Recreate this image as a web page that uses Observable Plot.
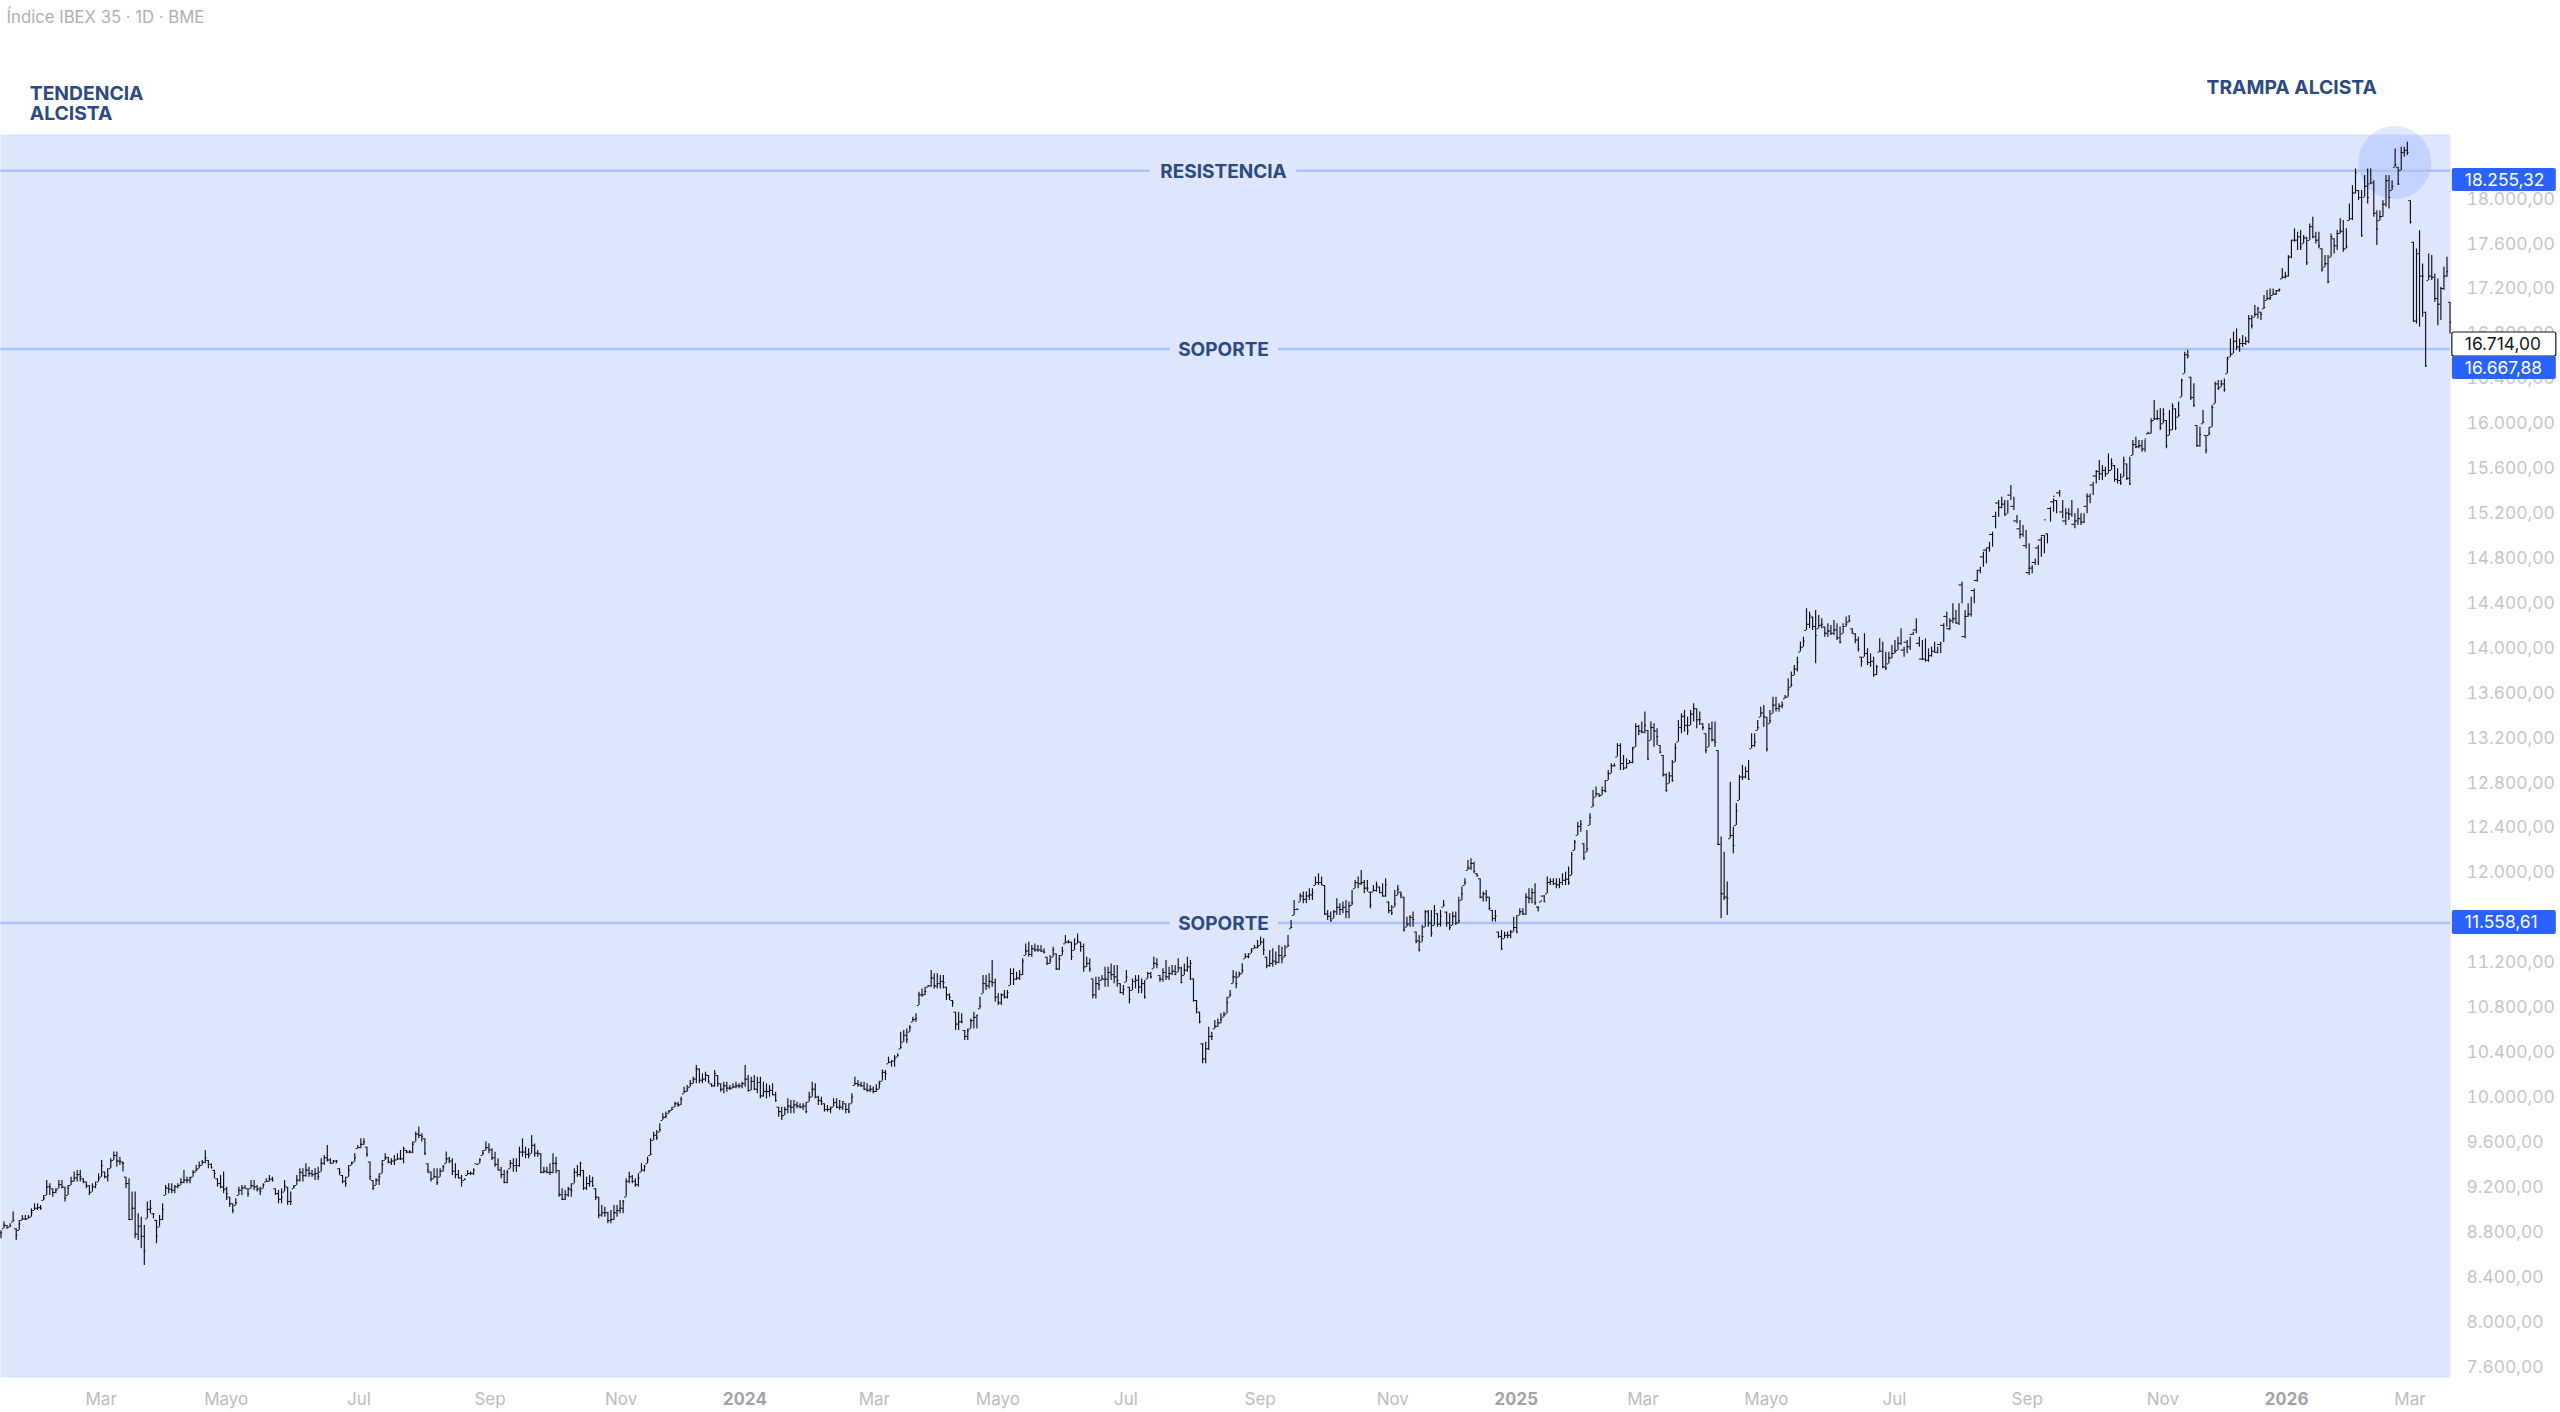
<!DOCTYPE html>
<html lang="es">
<head>
<meta charset="utf-8">
<title>Índice IBEX 35</title>
<style>
html,body{margin:0;padding:0;background:#fff}
svg{display:block}
</style>
<script src="https://cdn.jsdelivr.net/npm/d3@7"></script>
<script src="https://cdn.jsdelivr.net/npm/@observablehq/plot@0.6"></script>
</head>
<body>
<div id="chart"></div>
<script>
// Daily bars (rows of ten bars)
const highs = [
8800,8877,8847,8862,8966,8817,8892,8936,8936,8936,
8995,9040,9040,9025,9114,9248,9218,9173,9173,9248,
9248,9188,9203,9277,9322,9337,9337,9262,9233,9203,
9218,9233,9307,9426,9322,9352,9440,9500,9500,9455,
9411,9277,9262,9144,9144,8951,8921,8847,9055,9070,
8951,8892,8936,9040,9203,9218,9218,9203,9218,9262,
9337,9277,9277,9337,9381,9411,9426,9515,9426,9396,
9337,9262,9292,9322,9188,9099,9040,9084,9188,9203,
9203,9173,9248,9248,9203,9188,9218,9262,9292,9277,
9173,9159,9173,9248,9188,9144,9203,9292,9352,9352,
9396,9366,9337,9352,9366,9440,9470,9559,9440,9426,
9426,9352,9292,9277,9381,9411,9485,9559,9619,9619,
9544,9411,9248,9262,9307,9426,9485,9455,9440,9470,
9485,9515,9544,9515,9515,9589,9678,9723,9663,9619,
9396,9322,9352,9352,9352,9381,9500,9455,9440,9396,
9337,9292,9262,9337,9322,9352,9396,9440,9515,9589,
9574,9529,9499,9440,9366,9336,9336,9425,9440,9440,
9544,9618,9544,9529,9648,9573,9514,9485,9366,9366,
9396,9485,9455,9336,9173,9158,9188,9218,9351,9381,
9410,9336,9277,9292,9277,9173,9099,9025,9010,8965,
8980,9025,9025,9069,9069,9262,9321,9292,9262,9307,
9396,9381,9455,9618,9677,9692,9752,9841,9856,9870,
9900,9945,9945,9989,10078,10093,10138,10167,10271,10241,
10197,10212,10182,10108,10227,10182,10108,10123,10123,10093,
10108,10123,10108,10123,10271,10182,10167,10182,10167,10167,
10123,10108,10093,10108,10034,9900,9900,9900,9974,9960,
9960,9945,9930,9930,9945,10034,10123,10108,9997,9989,
9930,9915,9900,9974,9974,9960,9945,9930,9930,10019,
10167,10138,10123,10123,10108,10093,10080,10100,10130,10230,
10226,10345,10315,10360,10375,10568,10582,10597,10627,10701,
10731,10924,10953,10968,10983,11117,11087,11087,11072,11072,
10968,10909,10850,10746,10746,10731,10582,10597,10686,10746,
10716,10879,11072,11072,11087,11206,11042,10909,10909,10939,
10939,11132,11132,11102,11117,11221,11354,11369,11339,11354,
11339,11339,11310,11235,11250,11324,11265,11250,11324,11428,
11384,11369,11399,11443,11369,11354,11235,11221,11042,11057,
11057,11072,11146,11146,11176,11161,11161,11000,10983,11117,
10968,11042,11072,11072,11042,11027,11102,11102,11235,11221,
11072,11132,11206,11146,11161,11161,11221,11146,11176,11235,
11206,11042,10850,10746,10464,10479,10612,10568,10672,10686,
10731,10746,10879,10939,11117,11103,11103,11177,11266,11266,
11310,11340,11385,11414,11400,11236,11296,11310,11281,11340,
11325,11340,11429,11563,11741,11667,11800,11815,11815,11845,
11845,11949,11978,11949,11874,11652,11637,11652,11756,11711,
11726,11741,11726,11830,11919,11949,12008,11919,11919,11815,
11874,11904,11860,11889,11934,11726,11696,11830,11874,11815,
11770,11592,11607,11637,11459,11429,11518,11652,11652,11652,
11696,11622,11652,11741,11637,11622,11637,11637,11770,11860,
11934,12097,12112,12082,11978,11934,11815,11830,11770,11652,
11652,11459,11474,11459,11459,11474,11592,11607,11667,11667,
11800,11845,11845,11889,11682,11741,11785,11949,11934,11934,
11934,11934,11978,11993,12038,12171,12275,12438,12453,12245,
12364,12512,12720,12750,12690,12750,12809,12898,12958,12958,
13136,13136,13032,13002,12987,13106,13314,13299,13329,13418,
13254,13329,13314,13269,13121,13032,12869,12883,12987,13136,
13343,13403,13433,13373,13433,13492,13447,13418,13314,13225,
13314,13329,13329,13076,12305,12171,11904,12794,12394,12601,
12854,12943,12928,12987,13225,13225,13343,13462,13477,13373,
13433,13551,13551,13492,13507,13566,13714,13774,13833,13907,
14041,14085,14338,14308,14264,14323,14278,14249,14175,14204,
14189,14234,14204,14175,14204,14264,14278,14160,14115,14085,
13907,14115,13982,13937,13907,13833,14071,14040,13951,13951,
14011,14055,14085,14159,13996,14055,14085,14129,14248,14085,
14055,14070,13981,13996,14040,13996,14040,14204,14308,14248,
14382,14322,14382,14575,14322,14382,14441,14515,14678,14708,
14842,14871,14931,15020,15198,15302,15331,15302,15302,15435,
15331,15168,15124,15079,15035,14916,14723,14782,14901,14975,
14990,15005,15242,15317,15302,15391,15302,15228,15228,15302,
15183,15228,15183,15183,15361,15361,15465,15569,15658,15613,
15599,15717,15673,15613,15584,15539,15688,15628,15688,15836,
15866,15836,15836,15836,15910,16029,16192,16103,16118,16118,
16014,16103,16163,16118,16177,16385,16622,16637,16400,16341,
15970,15955,16103,15881,15955,16148,16355,16370,16370,16385,
16578,16741,16801,16830,16741,16771,16756,16949,16949,17038,
17023,16979,17127,17172,17186,17186,17172,17186,17365,17335,
17483,17617,17721,17691,17706,17661,17647,17765,17825,17691,
17691,17543,17483,17483,17676,17632,17706,17810,17795,17721,
17943,18106,18254,18062,18062,18195,18254,18254,18150,17883,
17883,17972,18195,18195,18150,18433,18269,18447,18447,18492,
17972,17601,17542,17705,17409,16978,17498,17483,17319,17275,
17201,17379,17468,17067
];
const lows = [
8728,8817,8817,8832,8877,8713,8802,8892,8892,8906,
8921,8980,8980,8980,9070,9114,9114,9099,9129,9173,
9173,9055,9114,9203,9233,9233,9233,9218,9173,9114,
9144,9173,9233,9277,9262,9233,9352,9426,9366,9381,
9322,9173,8892,8892,8728,8713,8639,8491,8906,8951,
8906,8684,8832,8892,9114,9129,9129,9129,9173,9203,
9218,9218,9218,9277,9322,9352,9381,9396,9352,9352,
9262,9188,9173,9129,9070,9010,8951,9025,9114,9114,
9173,9099,9173,9159,9144,9114,9173,9233,9233,9233,
9114,9040,9040,9144,9025,9025,9173,9203,9233,9233,
9277,9277,9277,9248,9248,9322,9381,9411,9396,9396,
9396,9292,9218,9188,9277,9381,9411,9530,9530,9559,
9455,9248,9159,9203,9203,9307,9426,9396,9381,9381,
9426,9426,9396,9485,9485,9485,9589,9619,9589,9470,
9307,9233,9262,9203,9277,9322,9396,9396,9292,9262,
9262,9188,9248,9292,9292,9292,9396,9396,9470,9515,
9485,9425,9366,9336,9262,9218,9218,9351,9321,9321,
9366,9455,9440,9440,9485,9455,9455,9307,9307,9307,
9292,9307,9307,9099,9069,9069,9099,9099,9218,9277,
9277,9158,9158,9188,9188,9069,8906,8921,8921,8861,
8861,8891,8921,8950,8950,9099,9218,9218,9188,9188,
9321,9321,9396,9470,9603,9603,9677,9781,9796,9841,
9870,9900,9900,9915,10019,10034,10078,10108,10108,10108,
10108,10123,10108,10078,10078,10078,10034,10019,10034,10049,
10063,10063,10063,10063,10078,10034,10049,10049,10019,9974,
9989,9974,9989,10004,9945,9811,9781,9826,9841,9841,
9841,9885,9885,9870,9841,9945,9989,9974,9915,9915,
9856,9856,9841,9900,9885,9870,9870,9841,9841,9930,
10093,10078,10078,10049,10034,10030,10020,10030,10060,10130,
10137,10286,10256,10256,10345,10419,10479,10464,10568,10657,
10657,10805,10879,10894,10968,10968,10953,10953,10953,10953,
10850,10850,10790,10582,10582,10642,10493,10493,10597,10597,
10597,10775,10909,10939,10953,10968,10835,10805,10805,10864,
10864,10983,10983,11028,11028,11072,11250,11235,11235,11280,
11280,11280,11265,11161,11176,11235,11117,11117,11250,11354,
11354,11206,11295,11354,11280,11102,11146,11102,10864,10864,
10939,11028,10968,10968,11028,10998,10968,10909,10894,11013,
10820,10939,10953,10909,10909,10864,11042,11042,11132,11132,
11013,11013,11028,11028,11072,11072,11102,10998,11072,11102,
11028,10835,10731,10642,10286,10286,10404,10493,10597,10612,
10642,10701,10731,10879,11000,10954,11058,11088,11221,11221,
11266,11310,11310,11340,11251,11132,11147,11147,11162,11177,
11177,11236,11325,11488,11607,11652,11726,11711,11711,11741,
11741,11874,11874,11874,11607,11563,11548,11578,11607,11607,
11622,11578,11578,11696,11845,11845,11874,11800,11815,11667,
11815,11815,11800,11770,11770,11622,11607,11681,11785,11756,
11459,11503,11503,11503,11355,11281,11370,11503,11503,11414,
11518,11503,11503,11681,11503,11474,11518,11518,11533,11741,
11874,12008,12008,11978,11949,11756,11726,11726,11652,11548,
11548,11400,11296,11400,11400,11400,11459,11444,11607,11607,
11607,11711,11711,11696,11637,11726,11726,11800,11874,11874,
11845,11845,11874,11874,11874,11963,12186,12320,12349,12097,
12171,12409,12572,12661,12661,12676,12700,12809,12869,12928,
13017,12898,12898,12913,12958,12958,13106,13210,13225,13225,
12987,13165,13106,13121,13047,12839,12705,12780,12794,12972,
13151,13225,13240,13210,13299,13329,13269,13299,13254,13047,
13106,13151,13106,12230,11577,11741,11607,12290,12156,12409,
12631,12809,12824,12809,13091,13106,13254,13373,13284,13062,
13314,13403,13418,13418,13447,13536,13551,13640,13744,13774,
13952,13996,14145,14160,14145,13848,14160,14160,14085,14085,
14100,14100,14056,14026,14115,14175,14219,14115,14026,13952,
13818,13907,13833,13818,13729,13744,13952,13803,13788,13847,
13892,13937,13966,14011,13907,13937,13966,14100,14115,13996,
13877,13862,13862,13907,13951,13937,13937,14040,14174,14144,
14204,14204,14189,14382,14070,14263,14263,14382,14575,14650,
14708,14738,14842,14886,15050,15153,15228,15168,15183,15302,
15213,15094,14960,14975,14871,14634,14649,14723,14723,14797,
14827,14916,15109,15198,15183,15331,15139,15079,15124,15153,
15050,15079,15079,15094,15183,15272,15346,15450,15480,15480,
15510,15539,15569,15465,15450,15435,15510,15480,15435,15703,
15762,15762,15732,15732,15895,15895,16014,16014,15925,15985,
15762,15881,15925,15925,16044,16222,16430,16563,16192,16133,
15777,15777,15985,15717,15881,15955,16163,16281,16311,16266,
16430,16578,16608,16637,16622,16667,16682,16697,16830,16934,
16919,16904,17008,17083,17083,17127,17127,17157,17275,17275,
17290,17454,17602,17528,17528,17587,17394,17617,17632,17587,
17543,17335,17379,17231,17468,17498,17528,17676,17513,17543,
17794,17794,18032,17972,17646,18002,17943,18121,17824,17572,
17794,17824,17913,17898,18062,18269,18106,18240,18358,18373,
17765,16889,16874,16845,16934,16488,17260,17260,17067,16859,
16904,17171,17290,16785
];
const closes = [
8780,8850,8825,8840,8890,8760,8860,8905,8900,8915,
8960,9000,9005,9000,9090,9190,9190,9140,9160,9210,
9190,9090,9180,9240,9270,9300,9280,9240,9200,9140,
9190,9210,9260,9380,9280,9290,9420,9470,9420,9420,
9400,9220,8900,9000,8770,8840,8750,8620,8990,9000,
8950,8750,8900,8990,9180,9170,9160,9190,9200,9230,
9250,9250,9270,9320,9340,9380,9410,9450,9390,9360,
9310,9220,9190,9170,9130,9040,8980,9050,9160,9180,
9180,9130,9200,9190,9170,9150,9210,9240,9260,9250,
9130,9080,9100,9200,9060,9060,9190,9250,9320,9290,
9340,9310,9300,9310,9280,9400,9450,9430,9400,9420,
9420,9320,9240,9220,9340,9400,9450,9540,9570,9590,
9480,9280,9180,9250,9280,9390,9450,9410,9420,9430,
9440,9440,9530,9500,9500,9570,9660,9650,9640,9490,
9340,9260,9280,9230,9330,9370,9440,9420,9330,9300,
9270,9230,9255,9310,9310,9340,9390,9430,9490,9540,
9520,9450,9390,9340,9300,9230,9320,9400,9380,9380,
9500,9500,9480,9470,9560,9490,9490,9320,9330,9320,
9320,9400,9400,9120,9080,9120,9170,9160,9320,9300,
9400,9180,9220,9240,9200,9100,8940,8960,8960,8890,
8900,8960,8980,9000,9060,9240,9280,9240,9210,9270,
9340,9370,9430,9480,9650,9630,9700,9810,9820,9860,
9880,9930,9920,9970,10040,10060,10110,10150,10240,10140,
10150,10190,10130,10090,10200,10110,10060,10090,10070,10070,
10080,10090,10090,10110,10150,10050,10130,10060,10120,10000,
10040,10040,10050,10010,9960,9860,9820,9880,9910,9900,
9920,9910,9900,9910,9860,9990,10060,9990,9960,9950,
9880,9880,9890,9940,9900,9900,9950,9880,9860,9990,
10110,10100,10090,10060,10050,10060,10040,10060,10110,10210,
10200,10300,10310,10330,10360,10430,10540,10500,10610,10680,
10690,10900,10900,10930,10980,11050,10980,11000,11020,11010,
10900,10880,10830,10640,10660,10660,10530,10580,10670,10700,
10720,10800,11000,10980,11020,11010,10880,10830,10900,10880,
10920,11090,11040,11050,11080,11200,11290,11260,11310,11300,
11300,11290,11280,11180,11210,11300,11130,11220,11290,11370,
11370,11240,11350,11380,11330,11150,11180,11130,10900,11000,
10990,11040,11040,11100,11080,11060,11030,10920,10950,11060,
10860,11020,11030,10970,11000,10880,11090,11060,11180,11170,
11040,11100,11060,11090,11110,11080,11140,11010,11120,11150,
11180,10850,10780,10660,10330,10420,10530,10530,10620,10650,
10680,10720,10830,10900,11060,11000,11080,11120,11240,11240,
11290,11320,11330,11370,11300,11160,11180,11200,11190,11250,
11220,11250,11340,11500,11660,11660,11780,11750,11780,11790,
11810,11900,11900,11880,11620,11600,11560,11640,11680,11660,
11680,11640,11690,11720,11900,11890,11900,11850,11850,11700,
11830,11880,11810,11780,11880,11650,11630,11710,11840,11790,
11480,11530,11590,11570,11380,11300,11420,11640,11540,11450,
11650,11530,11600,11700,11540,11500,11600,11540,11560,11800,
11900,12030,12070,12000,11960,11770,11800,11770,11670,11580,
11600,11420,11310,11430,11430,11460,11500,11460,11640,11620,
11770,11760,11810,11720,11680,11780,11730,11900,11910,11890,
11880,11900,11920,11930,11900,12150,12260,12400,12420,12120,
12200,12480,12590,12690,12670,12720,12710,12870,12940,12940,
13120,12960,12920,12960,12970,13090,13290,13250,13240,13300,
13000,13280,13250,13200,13060,12860,12720,12850,12810,13100,
13280,13380,13300,13250,13400,13450,13350,13350,13280,13080,
13270,13170,13150,12240,11800,11770,11760,12320,12230,12540,
12840,12840,12890,12820,13120,13150,13280,13410,13380,13090,
13340,13480,13450,13470,13480,13550,13620,13660,13800,13860,
13990,14050,14200,14280,14180,14100,14190,14200,14120,14140,
14120,14150,14080,14040,14180,14200,14230,14120,14060,13980,
13870,13940,13860,13870,13750,13820,13960,13820,13810,13900,
13940,13960,14030,13970,14040,14000,14110,14150,14030,13890,
13890,13880,13920,13960,13950,14020,14190,14270,14160,14230,
14250,14210,14550,14090,14270,14290,14500,14590,14680,14800,
14860,14880,15000,15160,15280,15240,15270,15170,15350,15250,
15120,15050,15000,14900,14660,14700,14750,14880,14950,14990,
15130,15230,15290,15340,15370,15200,15120,15190,15180,15090,
15120,15140,15110,15250,15340,15440,15520,15560,15540,15570,
15540,15570,15630,15490,15480,15460,15660,15500,15450,15800,
15780,15790,15760,15850,15900,16010,16030,16030,15950,16070,
15790,15930,16140,15950,16060,16370,16600,16590,16220,16150,
15790,15890,16000,15750,15900,16130,16340,16300,16340,16290,
16560,16600,16720,16670,16700,16700,16720,16920,16860,16960,
17010,16960,17020,17100,17110,17140,17170,17180,17290,17300,
17470,17620,17620,17650,17560,17640,17420,17740,17650,17620,
17570,17360,17410,17250,17650,17570,17680,17700,17540,17560,
17810,18040,18220,18000,17660,18100,18000,18130,17860,17720,
17830,17940,18150,18000,18100,18290,18120,18400,18420,18400,
17780,16900,17500,17300,17300,16500,17300,17290,17100,17050,
17190,17300,17340,16890
];

// Axis text
const priceTicks = [7600,8000,8400,8800,9200,9600,10000,10400,10800,11200,12000,12400,12800,13200,13600,14000,14400,14800,15200,15600,16000,16400,16800,17200,17600,18000];
const monthBars = [33,74,117.5,160.5,203.5,286.5,327,369,413,456.5,538.5,579,621,664.5,709,790];
const monthLabels = ["Mar","Mayo","Jul","Sep","Nov","Mar","Mayo","Jul","Sep","Nov","Mar","Mayo","Jul","Sep","Nov","Mar"];
const yearBars = [244,497,749.5];
const yearLabels = ["2024","2025","2026"];

// Drawn levels and their labels
const levelPrices = [18255.32,16667.88,11558.61];
const levelNames = ["RESISTENCIA","SOPORTE","SOPORTE"];
const levelGapStart = [377,383.6,383.6];
const levelGapEnd = [425,419,419];
const labelBar = 401;

// Price tags on the right
const tagTexts = ["18.255,32","16.714,00","16.667,88","11.558,61"];
const tagTop = [18258,16798,16584,11651];
const tagBottom = [18053,16584,16379,11438];
const tagFills = ["#2962ff","#ffffff","#2962ff","#2962ff"];
const tagStrokes = ["none","#131722","none","none"];
const tagInk = ["#ffffff","#131722","#ffffff","#ffffff"];

// Annotations
const trapBar = 785, trapPrice = 18311;

if (new Set([highs.length,lows.length,closes.length]).size !== 1) throw new Error("length mismatch "+[highs.length,lows.length,closes.length]);

const n = highs.length;
const idx = d3.range(n);
const endBar = 803.3;
const priceFmt = d3.formatLocale({decimal:",",thousands:".",grouping:[3],currency:["","€"]}).format(",.2f");
const FONT = "Inter, 'Liberation Sans', sans-serif";
const ink = "#2c4a80";
const levelColor = "#abc1f4";
const barInk = "#0b0d12";
const opens = closes.map((c,i)=>{const p=i?closes[i-1]:c;return Math.max(lows[i],Math.min(highs[i],p));});

const chart = Plot.plot({
  width: 2560, height: 1412,
  marginTop: 134, marginBottom: 35, marginLeft: 0, marginRight: 110,
  style: {background:"#fff", fontFamily:FONT, overflow:"visible"},
  x: {type:"linear", domain:[0,endBar], axis:null},
  y: {type:"linear", domain:[7493,18561], axis:null},
  marks: [
    Plot.frame({fill:"#dde6fd", stroke:null}),
    Plot.dot([0],{x:()=>trapBar, y:()=>trapPrice, r:36.5, fill:"#2962ff", fillOpacity:0.14}),
    // level lines, broken round their labels
    Plot.ruleY(levelPrices,{y:d=>d, x1:()=>0, x2:(d,i)=>levelGapStart[i], stroke:levelColor, strokeWidth:2.5, dy:2}),
    Plot.ruleY(levelPrices,{y:d=>d, x1:(d,i)=>levelGapEnd[i], x2:()=>endBar, stroke:levelColor, strokeWidth:2.5, dy:2}),
    Plot.text(levelNames,{x:()=>labelBar, y:(d,i)=>levelPrices[i], text:d=>d, fill:ink, fontWeight:700, fontSize:19, dy:3, letterSpacing:0.5}),
    // bars
    Plot.ruleX(idx,{x:i=>i+0.15, y1:i=>lows[i], y2:i=>highs[i], stroke:barInk, strokeWidth:1.15}),
    Plot.ruleY(idx,{y:i=>opens[i], x1:i=>i-0.4, x2:i=>i+0.15, stroke:barInk, strokeWidth:1}),
    Plot.ruleY(idx,{y:i=>closes[i], x1:i=>i+0.15, x2:i=>i+0.7, stroke:barInk, strokeWidth:1}),
    // axes
    Plot.axisY({anchor:"right", ticks:priceTicks, tickSize:0, tickPadding:16, tickFormat:priceFmt, fill:"#c3c5c9", fontSize:17.4, label:null, textAnchor:"start", dy:1.5}),
    Plot.axisX({anchor:"bottom", ticks:monthBars, tickSize:0, tickPadding:15, tickFormat:d=>monthLabels[monthBars.indexOf(d)], fill:"#b9bcc1", fontSize:17, label:null}),
    Plot.axisX({anchor:"bottom", ticks:yearBars, tickSize:0, tickPadding:15, tickFormat:d=>yearLabels[yearBars.indexOf(d)], fill:"#9fa2a8", fontSize:17, fontWeight:700, label:null}),
    // price tags
    Plot.rect(tagTexts,{x1:()=>803.9, x2:()=>838, y1:(d,i)=>tagBottom[i], y2:(d,i)=>tagTop[i], fill:(d,i)=>tagFills[i], stroke:(d,i)=>tagStrokes[i], strokeWidth:1.2, rx:2}),
    Plot.text(tagTexts,{x:()=>808, y:(d,i)=>(tagTop[i]+tagBottom[i])/2, text:d=>d, fill:(d,i)=>tagInk[i], textAnchor:"start", fontSize:17.4}),
    // header and notes
    Plot.text(["Índice IBEX 35 · 1D · BME"],{x:()=>2, y:()=>19603, text:d=>d, textAnchor:"start", fill:"#aeb0b5", fontSize:16.7}),
    Plot.text(["TENDENCIA","ALCISTA"],{x:()=>9.6, y:(d,i)=>[18920,18745][i], text:d=>d, textAnchor:"start", fill:ink, fontWeight:700, fontSize:19.3}),
    Plot.text(["TRAMPA ALCISTA"],{x:()=>723.3, y:()=>18980, text:d=>d, textAnchor:"start", fill:ink, fontWeight:700, fontSize:19.3})
  ]
});
document.getElementById("chart").append(chart);
</script>
</body>
</html>
